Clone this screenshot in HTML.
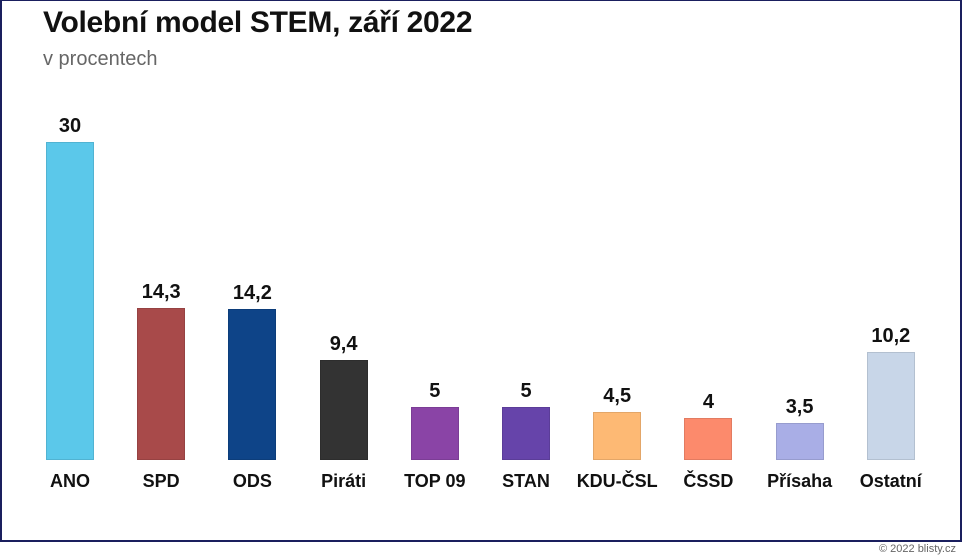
<!DOCTYPE html><html><head><meta charset="utf-8"><style>
body{margin:0;width:962px;height:559px;background:#fff;position:relative;overflow:hidden;font-family:"Liberation Sans",sans-serif}
.frame{position:absolute;left:0;top:0;width:958px;height:539px;border:2px solid #1a1f5e;border-top-width:1px}
.t{position:absolute;left:43px;top:6px;font-size:30px;font-weight:bold;color:#111;letter-spacing:-0.3px}
.s{position:absolute;left:43px;top:48px;font-size:20px;color:#666}
.b{position:absolute;width:48px;box-sizing:border-box;border:1px solid rgba(0,0,0,0.1)}
.v,.c{position:absolute;width:120px;text-align:center;font-weight:bold;color:#111}
.v{font-size:20px}.c{font-size:18px;top:471px}
.cp{position:absolute;right:6px;top:543px;font-size:11px;color:#666}
</style></head><body>
<div class="frame"></div>
<div class="t">Volební model STEM, září 2022</div>
<div class="s">v procentech</div>
<div id="ch"></div>
<div class="cp">© 2022 blisty.cz</div>
<script>
var d=[["ANO",30,"30","#5bc8ea"],["SPD",14.3,"14,3","#a84a4a"],["ODS",14.2,"14,2","#0e4488"],["Piráti",9.4,"9,4","#333333"],["TOP 09",5,"5","#8a44a6"],["STAN",5,"5","#6644aa"],["KDU-ČSL",4.5,"4,5","#fdb974"],["ČSSD",4,"4","#fc8a6c"],["Přísaha",3.5,"3,5","#a9aee6"],["Ostatní",10.2,"10,2","#c8d6e8"]];
var h="";d.forEach(function(e,i){var x=46+i*91.2,hh=e[1]*10.6,top=460-hh;
h+='<div class="b" style="left:'+x+'px;top:'+top+'px;height:'+hh+'px;background:'+e[3]+'"></div>';
h+='<div class="v" style="left:'+(x-36)+'px;top:'+(top-27)+'px">'+e[2]+'</div>';
h+='<div class="c" style="left:'+(x-36)+'px">'+e[0]+'</div>';});
document.getElementById("ch").innerHTML=h;
</script></body></html>
